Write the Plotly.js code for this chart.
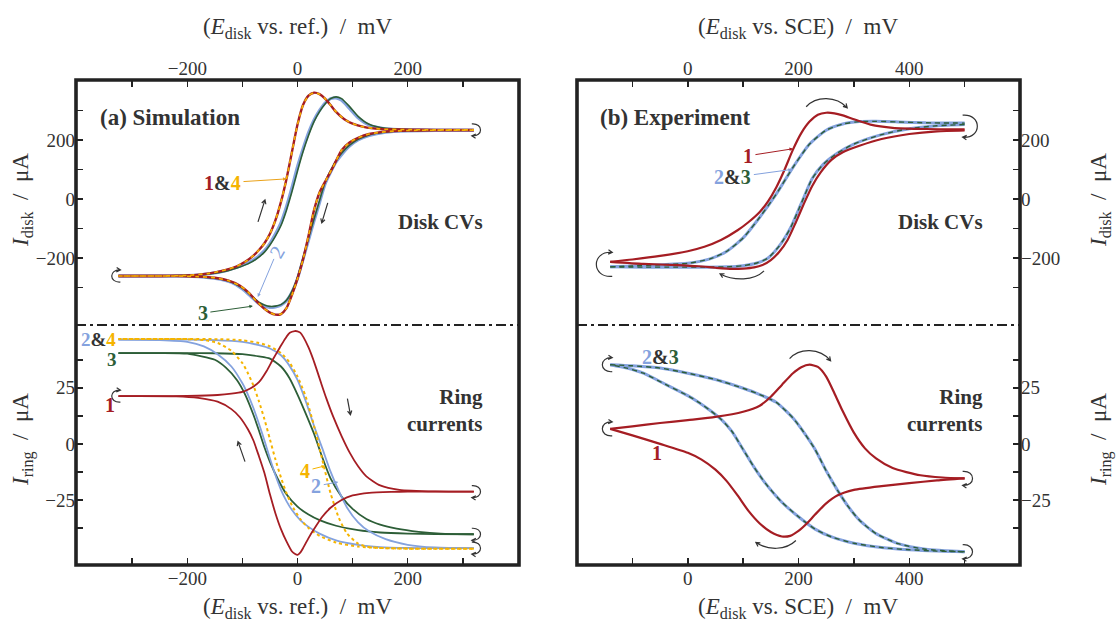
<!DOCTYPE html>
<html><head><meta charset="utf-8">
<script src="https://cdn.plot.ly/plotly-3.0.1.min.js"></script>
<style>html,body{margin:0;padding:0;background:#fff}#chart{width:1120px;height:630px}</style>
</head><body><div id="chart"></div>
<script>
// ---------------- (a) Simulation: disk CVs ----------------
const simCv1FwdE = [-325,-250,-200,-160,-130,-110,-95,-80,-70,-60,-50,-40,-30,-20,-10,0,10,20,30,40,50,60,70,85,100,120,150,200,250,320];
const simCv1FwdI = [-261,-261,-259,-252,-240,-228,-213,-192,-173,-150,-118,-72,-10,68,160,252,318,350,360,355,340,318,295,270,255,244,237,235,234,234];
const simCv1RevE = [320,250,200,160,130,110,95,80,65,52,40,30,20,10,0,-10,-20,-30,-40,-50,-60,-75,-90,-105,-125,-150,-180,-220,-260,-325];
const simCv1RevI = [233,233,232,228,220,207,192,165,110,65,22,-38,-125,-205,-270,-325,-370,-390,-392,-385,-372,-345,-315,-293,-277,-267,-263,-261,-261,-261];
const simCv2FwdE = [-325,-250,-200,-160,-130,-110,-90,-75,-60,-50,-40,-30,-20,-10,0,10,20,30,40,50,60,70,80,95,110,130,160,200,250,320];
const simCv2FwdI = [-261,-261,-259,-253,-243,-232,-217,-200,-175,-150,-118,-80,-25,40,110,170,225,268,300,325,340,342,334,305,275,250,238,235,234,234];
const simCv2RevE = [320,250,200,160,130,110,95,80,70,60,50,40,30,20,10,0,-10,-20,-30,-40,-50,-60,-70,-85,-100,-120,-140,-170,-220,-325];
const simCv2RevI = [232,232,230,226,215,200,180,150,125,90,50,-13,-75,-140,-205,-270,-315,-345,-360,-366,-368,-364,-355,-330,-305,-283,-272,-265,-261,-261];
const simCv3FwdI = [-261,-261,-259,-254,-245,-234,-220,-204,-180,-156,-126,-90,-38,25,95,160,215,262,296,322,340,346,340,312,280,253,239,235,234,234];
const simCv3RevI = [233,233,231,227,217,202,183,155,130,96,56,-5,-68,-133,-200,-265,-312,-343,-358,-363,-364,-359,-350,-326,-302,-281,-271,-265,-261,-261];

// ---------------- (a) Simulation: ring currents ----------------
const simRing1FwdE = [-325,-250,-200,-145,-120,-100,-85,-70,-56,-45,-32,-22,-14,-5,0,5,11,20,28,35,43,52,65,80,95,110,125,150,185,250,320];
const simRing1FwdI = [21.3,21.3,21.4,21.8,22.4,23.2,24.8,27.5,32.5,37.5,43,47,49.5,50.3,50.2,49.6,47.5,43,38,33,27,20.5,12,3.5,-4,-10,-14.5,-18.5,-20.5,-21.2,-21.3];
const simRing1RevE = [320,250,200,170,130,100,80,60,45,30,20,10,5,0,-5,-10,-20,-30,-40,-50,-60,-70,-80,-90,-105,-120,-145,-180,-220,-325];
const simRing1RevI = [-21.3,-21.3,-21.3,-21.4,-21.8,-23,-25,-28.5,-32.5,-38,-42,-46.5,-48.5,-49.5,-49,-48,-43.5,-38,-31,-22.5,-13,-5.5,1.5,6.5,12,15.5,18.8,20.5,21.2,21.3];
const simRingRightE = [-325,-200,-150,-100,-70,-50,-30,-15,0,15,30,45,60,75,90,110,130,160,200,250,320];
const simRing2RightI = [46.5,46.5,46.3,45.5,44,42.5,39.5,35,28.5,19,8,-2,-12.4,-21,-28.5,-35,-39,-42.5,-45,-46.2,-46.5];
const simRing4RightI = [46.8,46.8,46.7,46.2,45,43.5,40.5,36.5,30,21,8,-7,-22,-33,-40,-44.5,-46,-46.5,-46.7,-46.8,-46.8];
const simRingLeftE = [320,250,200,150,110,70,40,20,5,-10,-20,-30,-40,-50,-60,-70,-80,-90,-100,-120,-145,-170,-200,-250,-325];
const simRing2LeftI = [-46.5,-46.5,-46.4,-46,-45,-43,-40,-37,-34,-29.5,-25.5,-20.5,-14,-6.5,1.5,9,16,22,27,34.5,40,43.5,45.5,46.3,46.5];
const simRing4LeftI = [-46.8,-46.8,-46.7,-46.4,-45.8,-44,-41,-37.5,-33.5,-27.5,-22,-15,-7,2,11,19,26,31.5,36,41.5,45,46.3,46.7,46.8,46.8];
const simRing3RightE = [-325,-200,-150,-100,-70,-50,-30,-15,0,15,30,45,60,80,100,125,150,180,220,260,320];
const simRing3RightI = [40.5,40.5,40.4,40,39,38,34.5,29.5,22,13.5,4.5,-6,-15.4,-23.5,-29,-33.5,-36,-37.8,-39.2,-40,-40.3];
const simRing3LeftE = [320,250,200,150,110,70,40,20,0,-20,-35,-50,-60,-70,-80,-95,-110,-130,-150,-200,-250,-325];
const simRing3LeftI = [-40.3,-40.2,-40,-39.5,-38.5,-36.5,-34,-31.5,-28,-22.5,-16,-8,-1.5,6,13,22,28.5,34,37.5,40.2,40.5,40.5];

// ---------------- (b) Experiment: disk CVs ----------------
const expCv1FwdE = [-140,-100,-50,0,30,60,90,110,130,145,160,175,190,205,220,235,250,265,280,300,330,370,430,500];
const expCv1FwdI = [-213,-205,-193,-177,-162,-139,-106,-78,-44,-8,40,100,167,223,262,285,292,290,283,270,252,241,237,236];
const expCv1RevE = [500,450,400,350,310,280,260,240,225,210,195,180,165,150,135,120,100,80,50,20,-20,-80,-140];
const expCv1RevI = [232,229,220,203,180,158,133,90,45,-15,-80,-140,-180,-207,-224,-232,-236,-237,-233,-228,-224,-220,-213];
const expCv23FwdE = [-140,-100,-50,0,40,70,100,130,160,190,220,250,280,310,340,380,430,500];
const expCv23FwdI = [-230,-227,-223,-218,-203,-178,-132,-62,17,107,186,233,254,262,263,261,258,257];
const expCv23RevE = [500,450,400,350,300,270,245,225,205,185,165,145,125,100,70,30,-20,-80,-140];
const expCv23RevI = [252,248,238,218,186,155,118,70,-15,-100,-160,-200,-217,-226,-230,-231,-231,-231,-230];

// ---------------- (b) Experiment: ring currents ----------------
const expRing1FwdE = [-140,-100,-50,0,50,100,130,150,170,190,205,220,235,250,265,280,300,320,340,370,420,460,500];
const expRing1FwdI = [6.7,7.8,9.3,10.6,12,14.3,17,21,26.3,31.5,34.2,35.3,34.3,30,22.5,14.5,5,-2,-6.5,-10.8,-14,-15,-15.4];
const expRing1RevE = [500,450,400,350,300,270,250,230,215,200,185,170,150,130,110,90,70,50,25,0,-50,-100,-140];
const expRing1RevI = [-15.4,-16.3,-17.5,-18.8,-20.5,-23,-26.5,-31.5,-35.5,-38.8,-41,-41.3,-39.3,-35.5,-30,-23,-16.5,-11.5,-7,-4,0,3.8,6.7];
const expRing23FwdE = [-140,-100,-50,0,50,100,130,160,190,210,230,250,270,290,310,340,380,430,500];
const expRing23FwdI = [35.3,34.8,33.8,31.5,28.7,24.8,22,18.5,11.5,5,-2.5,-12,-20.5,-28,-34,-40,-44.5,-47,-48.1];
const expRing23RevE = [500,450,400,350,300,260,230,200,170,140,120,100,80,60,40,20,0,-40,-80,-110,-140];
const expRing23RevI = [-48.1,-47.8,-47.2,-46.2,-44.3,-41.5,-38,-32.5,-26,-17.5,-10.5,-2.5,5.5,11,15,18.5,21.5,26.5,31.5,33.8,35.3];

// ---------------- tick labels ----------------
const simTickE = [-200, 0, 200];
const simMinorE = [-300, -100, 100, 300];
const expTickE = [0, 200, 400];
const expMinorE = [-100, 100, 300, 500];
const diskTickI = [-200, 0, 200];
const diskMinorI = [-300, -100, 100, 300];
const ringTickI = [-25, 0, 25];
const ringMinorI = [-37.5, -12.5, 12.5, 37.5];

// ---------------- styling ----------------
const RED = '#a51d23', BLUE = '#84a2de', GREEN = '#2d5e37', GOLD = '#f5b400', INK = '#333333';
const SERIF = "'Liberation Serif', 'DejaVu Serif', serif";

const traces = [];
function line(x, y, xa, ya, color, width, dash) {
  traces.push({x, y, xaxis: xa, yaxis: ya, type: 'scatter', mode: 'lines', hoverinfo: 'skip', showlegend: false,
    line: {color, width, dash: dash || 'solid', shape: 'spline', smoothing: 0.6}});
}
// (a) disk
line(simCv2FwdE, simCv2FwdI, 'x', 'y', BLUE, 3);
line(simCv2RevE, simCv2RevI, 'x', 'y', BLUE, 3);
line(simCv2FwdE, simCv3FwdI, 'x', 'y', GREEN, 1.6);
line(simCv2RevE, simCv3RevI, 'x', 'y', GREEN, 1.6);
line(simCv1FwdE, simCv1FwdI, 'x', 'y', RED, 2.4);
line(simCv1RevE, simCv1RevI, 'x', 'y', RED, 2.4);
line(simCv1FwdE, simCv1FwdI, 'x', 'y', GOLD, 1.6, '4px,4px');
line(simCv1RevE, simCv1RevI, 'x', 'y', GOLD, 1.6, '4px,4px');
// (a) ring
line(simRing3RightE, simRing3RightI, 'x2', 'y2', GREEN, 1.8);
line(simRing3LeftE, simRing3LeftI, 'x2', 'y2', GREEN, 1.8);
line(simRingRightE, simRing2RightI, 'x2', 'y2', BLUE, 1.8);
line(simRingLeftE, simRing2LeftI, 'x2', 'y2', BLUE, 1.8);
line(simRingRightE, simRing4RightI, 'x2', 'y2', GOLD, 2, '3px,3px');
line(simRingLeftE, simRing4LeftI, 'x2', 'y2', GOLD, 2, '3px,3px');
line(simRing1FwdE, simRing1FwdI, 'x2', 'y2', RED, 1.8);
line(simRing1RevE, simRing1RevI, 'x2', 'y2', RED, 1.8);
// (b) disk
line(expCv23FwdE, expCv23FwdI, 'x3', 'y3', BLUE, 3);
line(expCv23RevE, expCv23RevI, 'x3', 'y3', BLUE, 3);
line(expCv23FwdE, expCv23FwdI, 'x3', 'y3', GREEN, 1.4, '5px,4px');
line(expCv23RevE, expCv23RevI, 'x3', 'y3', GREEN, 1.4, '5px,4px');
line(expCv1FwdE, expCv1FwdI, 'x3', 'y3', RED, 2.2);
line(expCv1RevE, expCv1RevI, 'x3', 'y3', RED, 2.2);
// (b) ring
line(expRing23FwdE, expRing23FwdI, 'x4', 'y4', BLUE, 3);
line(expRing23RevE, expRing23RevI, 'x4', 'y4', BLUE, 3);
line(expRing23FwdE, expRing23FwdI, 'x4', 'y4', GREEN, 1.4, '5px,4px');
line(expRing23RevE, expRing23RevI, 'x4', 'y4', GREEN, 1.4, '5px,4px');
line(expRing1FwdE, expRing1FwdI, 'x4', 'y4', RED, 2.2);
line(expRing1RevE, expRing1RevI, 'x4', 'y4', RED, 2.2);

// ---------------- layout ----------------
const LX = [76/1120, 519/1120], RX = [577/1120, 1020/1120];
const TOPD = [1-325/630, 1-80/630], BOTD = [1-565/630, 1-325/630];
const tickFont = {family: SERIF, size: 19, color: INK};
function ax(domain, range, anchor, side, vals, minorVals) {
  return {domain, range, anchor, side, showgrid: false, zeroline: false, showline: false, automargin: false,
    ticks: 'inside', ticklen: 7, tickwidth: 1.5, tickcolor: '#222', tickmode: 'array', tickvals: vals,
    tickfont: tickFont, fixedrange: true,
    minor: {tickmode: 'array', tickvals: minorVals, ticks: 'inside', ticklen: 7, tickwidth: 1.5, tickcolor: '#222', showgrid: false}};
}
const last = a => a[a.length - 1];
const argmax = a => a.indexOf(Math.max(...a));
const argmin = a => a.indexOf(Math.min(...a));

function arcPath(p) {
  const [x0, y0, a, b, c, d, x1, y1] = p;
  let tx = x1 - c, ty = y1 - d;
  const L = Math.hypot(tx, ty) || 1; tx /= L; ty /= L;
  const hl = 4.5, an = 0.5, co = Math.cos(an), si = Math.sin(an);
  const bx = -tx, by = -ty;
  const h1x = x1 + hl*(bx*co - by*si), h1y = y1 + hl*(bx*si + by*co);
  const h2x = x1 + hl*(bx*co + by*si), h2y = y1 + hl*(-bx*si + by*co);
  return `M${x0},${y0} C${a},${b} ${c},${d} ${x1},${y1} M${h1x.toFixed(2)},${h1y.toFixed(2)} L${x1},${y1} L${h2x.toFixed(2)},${h2y.toFixed(2)}`;
}
function curl(xref, yref, xa, ya, pts) {
  return {type: 'path', xref, yref, xsizemode: 'pixel', ysizemode: 'pixel', xanchor: xa, yanchor: ya,
    path: arcPath(pts), line: {color: '#333', width: 1.2}, layer: 'above'};
}
// straight arrow: head at data point, tail offset in pixels (y up)
function arrow(xref, yref, xa, ya, dx, dy) {
  return curl(xref, yref, xa, ya, [dx, dy, dx, dy, dx/2, dy/2, 0, 0]);
}
const leftCurl = r => [2, -r, -1.6*r, -1.15*r, -1.6*r, 1.15*r, 2, r];
const rightCurl = r => [-2, r, 1.6*r, 1.15*r, 1.6*r, -1.15*r, -2, -r];

const shapes = [
  {type: 'rect', xref: 'paper', yref: 'paper', x0: LX[0], x1: LX[1], y0: BOTD[0], y1: TOPD[1], line: {color: '#222', width: 3.6}, layer: 'above'},
  {type: 'rect', xref: 'paper', yref: 'paper', x0: RX[0], x1: RX[1], y0: BOTD[0], y1: TOPD[1], line: {color: '#222', width: 3.6}, layer: 'above'},
  {type: 'line', xref: 'paper', yref: 'paper', x0: LX[0], x1: LX[1], y0: TOPD[0], y1: TOPD[0], line: {color: '#222', width: 2, dash: '10px,4px,3px,4px'}},
  {type: 'line', xref: 'paper', yref: 'paper', x0: RX[0], x1: RX[1], y0: TOPD[0], y1: TOPD[0], line: {color: '#222', width: 2, dash: '10px,4px,3px,4px'}},
  // (a) disk scan reversals and sweep arrows
  curl('x', 'y', simCv1FwdE[0], simCv1FwdI[0], leftCurl(6)),
  curl('x', 'y', last(simCv1FwdE), last(simCv1FwdI), rightCurl(6)),
  arrow('x', 'y', -59, -3, -7, -22),
  arrow('x', 'y', 44, -81, 6, 20),
  // (a) ring reversals and sweep arrows
  curl('x2', 'y2', simRing1FwdE[0], simRing1FwdI[0], leftCurl(6)),
  curl('x2', 'y2', last(simRing1FwdE), last(simRing1FwdI), rightCurl(6)),
  curl('x2', 'y2', last(simRing3RightE), last(simRing3RightI), rightCurl(6)),
  curl('x2', 'y2', last(simRingRightE), last(simRing2RightI), rightCurl(6)),
  arrow('x2', 'y2', -108, 1, 7, -20),
  arrow('x2', 'y2', 96, 13, -3, 16),
  // (b) disk
  curl('x3', 'y3', expCv1FwdE[0], (expCv1FwdI[0] + expCv23FwdI[0]) / 2, leftCurl(12)),
  curl('x3', 'y3', last(expCv1FwdE), (last(expCv1FwdI) + last(expCv23FwdI)) / 2, rightCurl(11)),
  curl('x3', 'y3', expCv1FwdE[argmax(expCv1FwdI)], Math.max(...expCv1FwdI), [-20, 6, -10, 17, 10, 17, 21, 5]),
  curl('x3', 'y3', expCv1RevE[argmin(expCv1RevI)], Math.min(...expCv1RevI), [32, -2, 22, -12, 2, -12, -12, -5]),
  // (b) ring
  curl('x4', 'y4', expRing23FwdE[0], expRing23FwdI[0], leftCurl(7)),
  curl('x4', 'y4', expRing1FwdE[0], expRing1FwdI[0], leftCurl(7)),
  curl('x4', 'y4', last(expRing1FwdE), last(expRing1FwdI), rightCurl(7)),
  curl('x4', 'y4', last(expRing23FwdE), last(expRing23FwdI), rightCurl(7)),
  curl('x4', 'y4', expRing1FwdE[argmax(expRing1FwdI)], Math.max(...expRing1FwdI), [-20, 6, -10, 17, 10, 17, 21, 4]),
  curl('x4', 'y4', expRing1RevE[argmin(expRing1RevI)], Math.min(...expRing1RevI), [14, -4, 4, -14, -14, -14, -26, -6])
];

const c = (col, t) => `<span style="color:${col}">${t}</span>`;
const titleFont = {family: SERIF, size: 23, color: INK};
const boldFont = {family: SERIF, size: 23, color: INK};
const lblFont = {family: SERIF, size: 20, color: INK};
const smallLbl = {family: SERIF, size: 19, color: INK};
function txt(x, y, text, font, extra) {
  return Object.assign({xref: 'paper', yref: 'paper', x, y, text, showarrow: false, font, xanchor: 'center', yanchor: 'middle'}, extra || {});
}
function lab(xref, yref, x, y, text, axp, ayp, col, extra) {
  return Object.assign({xref, yref, x, y, text, showarrow: true, ax: axp, ay: ayp, arrowcolor: col, arrowwidth: 1,
    arrowhead: 2, arrowsize: 0.7, standoff: 0, startstandoff: 1, font: lblFont}, extra || {});
}
const eTitleRef = `(<i>E</i><sub>disk</sub> vs. ref.)  /  mV`;
const eTitleSce = `(<i>E</i><sub>disk</sub> vs. SCE)  /  mV`;
const iDisk = `<i>I</i><sub>disk</sub>  /  μA`;
const iRing = `<i>I</i><sub>ring</sub>  /  μA`;
const annotations = [
  txt(297/1120, 1-28/630, eTitleRef, titleFont),
  txt(297/1120, 1-608/630, eTitleRef, titleFont),
  txt(798/1120, 1-28/630, eTitleSce, titleFont),
  txt(798/1120, 1-608/630, eTitleSce, titleFont),
  txt(22/1120, 1-200/630, iDisk, titleFont, {textangle: -90}),
  txt(22/1120, 1-440/630, iRing, titleFont, {textangle: -90}),
  txt(1100/1120, 1-200/630, iDisk, titleFont, {textangle: -90}),
  txt(1100/1120, 1-440/630, iRing, titleFont, {textangle: -90}),
  txt(98/1120, 1-117/630, '<b>(a) Simulation</b>', boldFont, {xanchor: 'left'}),
  txt(598/1120, 1-117/630, '<b>(b) Experiment</b>', boldFont, {xanchor: 'left'}),
  txt(485/1120, 1-222/630, '<b>Disk CVs</b>', {family: SERIF, size: 21, color: INK}, {xanchor: 'right'}),
  txt(985/1120, 1-222/630, '<b>Disk CVs</b>', {family: SERIF, size: 21, color: INK}, {xanchor: 'right'}),
  txt(485/1120, 1-410/630, '<b>Ring<br>currents</b>', {family: SERIF, size: 21, color: INK}, {xanchor: 'right', align: 'right'}),
  txt(985/1120, 1-410/630, '<b>Ring<br>currents</b>', {family: SERIF, size: 21, color: INK}, {xanchor: 'right', align: 'right'}),
  // (a) disk labels
  lab('x', 'y', -20, 68, '<b>' + c(RED, '1') + '&' + c(GOLD, '4') + '</b>', -64, 4, '#eaa21a'),
  lab('x', 'y', -72, -332, c(BLUE, '2'), 19, -45, BLUE, {textangle: -60}),
  lab('x', 'y', -81, -363, '<b>' + c(GREEN, '3') + '</b>', -50, 7, GREEN),
  // (a) ring labels
  txt(98/1120, 1-339/630, '<b>' + c(BLUE, '2') + '&' + c(GOLD, '4') + '</b>', smallLbl),
  txt(112/1120, 1-359/630, '<b>' + c(GREEN, '3') + '</b>', smallLbl),
  txt(110/1120, 1-405/630, '<b>' + c(RED, '1') + '</b>', lblFont),
  lab('x2', 'y2', 50, -9.8, '<b>' + c(GOLD, '4') + '</b>', -20, 5, GOLD),
  lab('x2', 'y2', 74, -17, '<b>' + c(BLUE, '2') + '</b>', -22, 4, BLUE),
  // (b) labels
  lab('x3', 'y3', 190, 170, '<b>' + c(RED, '1') + '</b>', -45, 7, RED),
  lab('x3', 'y3', 188, 100, '<b>' + c(BLUE, '2') + '&' + c(GREEN, '3') + '</b>', -59, 8, BLUE),
  txt(660/1120, 1-357/630, '<b>' + c(BLUE, '2') + '&' + c(GREEN, '3') + '</b>', lblFont),
  txt(657/1120, 1-453/630, '<b>' + c(RED, '1') + '</b>', lblFont)
];

const layout = {
  width: 1120, height: 630, margin: {l: 0, r: 0, t: 0, b: 0}, paper_bgcolor: '#fff', plot_bgcolor: 'rgba(0,0,0,0)',
  showlegend: false, font: {family: SERIF, color: INK},
  xaxis: ax(LX, [-402, 402], 'y', 'top', simTickE, simMinorE),
  yaxis: ax(TOPD, [-427, 403], 'x', 'left', diskTickI, diskMinorI),
  xaxis2: ax(LX, [-402, 402], 'y2', 'bottom', simTickE, simMinorE),
  yaxis2: ax(BOTD, [-54, 53], 'x2', 'left', ringTickI, ringMinorI),
  xaxis3: ax(RX, [-200, 600], 'y3', 'top', expTickE, expMinorE),
  yaxis3: ax(TOPD, [-427, 403], 'x3', 'right', diskTickI, diskMinorI),
  xaxis4: ax(RX, [-200, 600], 'y4', 'bottom', expTickE, expMinorE),
  yaxis4: ax(BOTD, [-54, 53], 'x4', 'right', ringTickI, ringMinorI),
  shapes, annotations
};
Plotly.newPlot('chart', traces, layout, {staticPlot: true, displayModeBar: false});
</script></body></html>
